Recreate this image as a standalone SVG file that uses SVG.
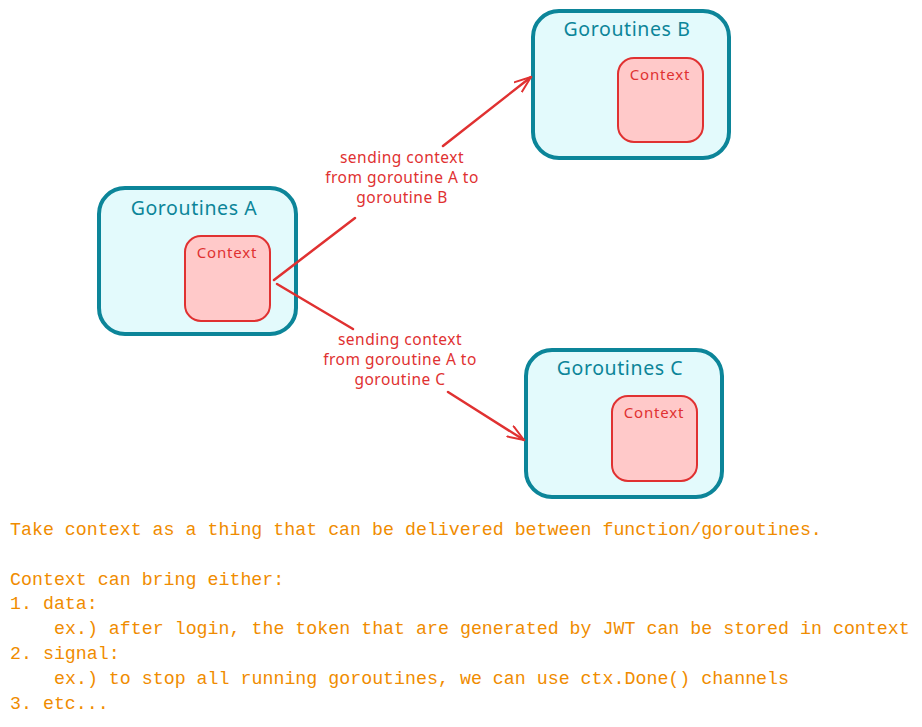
<svg xmlns="http://www.w3.org/2000/svg" width="922" height="727" viewBox="0 0 922 727">
<style>
.outer{fill:#e3fafc;stroke:#0c8599;stroke-width:4}
.inner{fill:#ffc9c9;stroke:#e03131;stroke-width:2}
.title{font-family:"Noto Sans","Liberation Sans",sans-serif;font-size:19.5px;letter-spacing:0.6px;fill:#0c8599;text-anchor:middle}
.ctx{font-family:"Noto Sans","Liberation Sans",sans-serif;font-size:15px;letter-spacing:0.8px;fill:#e03131;text-anchor:middle}
.lbl{font-family:"Noto Sans","Liberation Sans",sans-serif;font-size:15.5px;letter-spacing:0.5px;fill:#e03131;text-anchor:middle}
.conn{fill:none;stroke:#e03131;stroke-width:2.5;stroke-linecap:round}
.note{font-family:"Liberation Mono","DejaVu Sans Mono",monospace;font-size:18.3px;fill:#f08c00}
</style>
<defs>
<marker id="arrow" viewBox="0 0 18 14" refX="17" refY="7" markerWidth="18" markerHeight="14" markerUnits="userSpaceOnUse" orient="auto">
<path d="M1,1 L17,7 L1,13" fill="none" stroke="#e03131" stroke-width="2" stroke-linecap="round" stroke-linejoin="round"/>
</marker>
</defs>
<rect width="922" height="727" fill="#ffffff"/>
<g id="goroutine-a">
<rect class="outer" x="99" y="188" width="197" height="146" rx="26"/>
<text class="title" x="194" y="215">Goroutines A</text>
<g id="context-a">
<rect class="inner" x="185" y="236" width="85" height="85" rx="16"/>
<text class="ctx" x="227" y="258">Context</text>
</g>
</g>
<g id="goroutine-b">
<rect class="outer" x="533" y="11" width="196" height="147" rx="26"/>
<text class="title" x="627" y="36">Goroutines B</text>
<g id="context-b">
<rect class="inner" x="618" y="58" width="85" height="84" rx="16"/>
<text class="ctx" x="660" y="80">Context</text>
</g>
</g>
<g id="goroutine-c">
<rect class="outer" x="526" y="350" width="196" height="147" rx="26"/>
<text class="title" x="620" y="375">Goroutines C</text>
<g id="context-c">
<rect class="inner" x="612" y="396" width="85" height="85" rx="16"/>
<text class="ctx" x="654" y="418">Context</text>
</g>
</g>
<g id="connectors">
<path class="conn" d="M274,280 L355,218"/>
<path class="conn" d="M443,146 L531,77" marker-end="url(#arrow)"/>
<path class="conn" d="M277,284 L353,329"/>
<path class="conn" d="M448,392 L524,440" marker-end="url(#arrow)"/>
<text class="lbl" x="402" y="163">sending context</text>
<text class="lbl" x="402" y="183">from goroutine A to</text>
<text class="lbl" x="402" y="203">goroutine B</text>
<text class="lbl" x="400" y="345">sending context</text>
<text class="lbl" x="400" y="365">from goroutine A to</text>
<text class="lbl" x="400" y="385">goroutine C</text>
</g>
<g id="notes">
<text class="note" x="10" y="535">Take context as a thing that can be delivered between function/goroutines.</text>
<text class="note" x="10" y="585">Context can bring either:</text>
<text class="note" x="10" y="609">1. data:</text>
<text class="note" x="54" y="634">ex.) after login, the token that are generated by JWT can be stored in context</text>
<text class="note" x="10" y="659">2. signal:</text>
<text class="note" x="54" y="684">ex.) to stop all running goroutines, we can use ctx.Done() channels</text>
<text class="note" x="10" y="709">3. etc...</text>
</g>
</svg>
